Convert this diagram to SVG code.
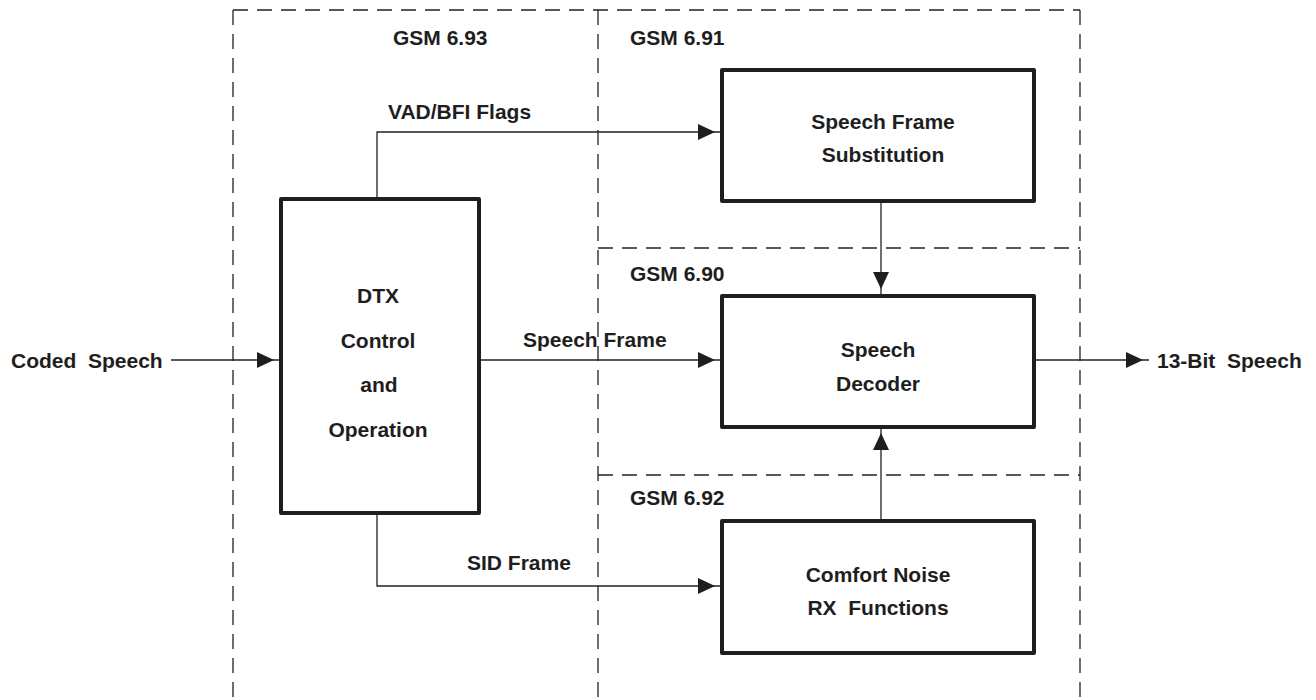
<svg xmlns="http://www.w3.org/2000/svg" width="1316" height="700" viewBox="0 0 1316 700">
  <style>
    .bg { fill: #ffffff; }
    .zone { fill: none; stroke: #222; stroke-width: 1.3; stroke-dasharray: 15 9; }
    .box { fill: #ffffff; stroke: #1e1e1e; stroke-width: 4; stroke-linejoin: round; }
    .wire { fill: none; stroke: #222; stroke-width: 1.3; }
    .lbl { font-family: "Liberation Sans", Arial, sans-serif; font-weight: bold; font-size: 21px; fill: #1e1e1e; white-space: pre; }
    .mid { text-anchor: middle; }
  </style>
  <defs>
    <!-- arrowhead stops a few pixels short of the line end, the line runs on to the box -->
    <marker id="arrow" markerUnits="userSpaceOnUse" markerWidth="24" markerHeight="16" refX="23" refY="8" orient="auto">
      <path d="M0,0 L17,8 L0,16 Z" fill="#1e1e1e"/>
    </marker>
  </defs>

  <rect class="bg" x="0" y="0" width="1316" height="700"/>

  <!-- standard boundaries -->
  <g id="zones">
    <path class="zone" d="M233,10 H1080"/>
    <path class="zone" d="M233,10 V700"/>
    <path class="zone" d="M598,10 V700"/>
    <path class="zone" d="M1080,10 V700"/>
    <path class="zone" d="M598,248 H1080"/>
    <path class="zone" d="M598,475 H1080"/>
    <text class="lbl" x="393" y="45">GSM 6.93</text>
    <text class="lbl" x="630" y="45">GSM 6.91</text>
    <text class="lbl" x="630" y="281">GSM 6.90</text>
    <text class="lbl" x="630" y="505">GSM 6.92</text>
  </g>

  <!-- connectors -->
  <g id="connectors">
    <path class="wire" d="M171,360 H280" marker-end="url(#arrow)"/>
    <path class="wire" d="M377,198 V132 H721" marker-end="url(#arrow)"/>
    <path class="wire" d="M479,360 H721" marker-end="url(#arrow)"/>
    <path class="wire" d="M377,513 V586 H721" marker-end="url(#arrow)"/>
    <path class="wire" d="M881,201 V295" marker-end="url(#arrow)"/>
    <path class="wire" d="M881,521 V427" marker-end="url(#arrow)"/>
    <path class="wire" d="M1034,360 H1149" marker-end="url(#arrow)"/>
    <text class="lbl" x="11" y="368">Coded  Speech</text>
    <text class="lbl" x="388" y="119">VAD/BFI Flags</text>
    <text class="lbl" x="523" y="347">Speech Frame</text>
    <text class="lbl" x="467" y="570">SID Frame</text>
    <text class="lbl" x="1157" y="368">13-Bit  Speech</text>
  </g>

  <g id="dtx">
    <rect class="box" x="281" y="199" width="198" height="314"/>
    <text class="lbl mid" x="378" y="303">DTX</text>
    <text class="lbl mid" x="378" y="348">Control</text>
    <text class="lbl mid" x="379" y="392">and</text>
    <text class="lbl mid" x="378" y="437">Operation</text>
  </g>

  <g id="substitution">
    <rect class="box" x="722" y="70" width="312" height="131"/>
    <text class="lbl mid" x="883" y="129">Speech Frame</text>
    <text class="lbl mid" x="883" y="162">Substitution</text>
  </g>

  <g id="decoder">
    <rect class="box" x="722" y="296" width="312" height="131"/>
    <text class="lbl mid" x="878" y="357">Speech</text>
    <text class="lbl mid" x="878" y="391">Decoder</text>
  </g>

  <g id="comfort-noise">
    <rect class="box" x="722" y="521" width="312" height="132"/>
    <text class="lbl mid" x="878" y="582">Comfort Noise</text>
    <text class="lbl mid" x="878" y="615">RX  Functions</text>
  </g>
</svg>
